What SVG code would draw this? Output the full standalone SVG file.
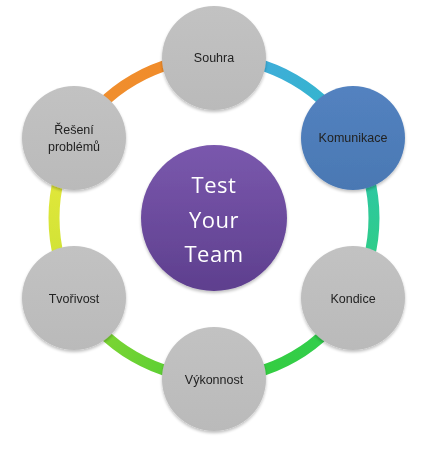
<svg xmlns="http://www.w3.org/2000/svg" width="423" height="450" viewBox="0 0 423 450">
<defs>
<style>
.ring{fill:none;stroke-width:11;stroke-linecap:butt}
.node{fill:url(#gray)}
.lbl{font-family:"Liberation Sans",Arial,sans-serif;font-size:12.5px;fill:#222;text-anchor:middle}
.big{font-family:"Open Sans","DejaVu Sans",sans-serif;font-size:22px;fill:#fff;text-anchor:middle;letter-spacing:0.5px}
</style>
<filter id="sh" x="-20%" y="-20%" width="140%" height="140%">
<feGaussianBlur in="SourceAlpha" stdDeviation="1.5"/>
<feOffset dx="0" dy="1.5" result="b"/>
<feComponentTransfer><feFuncA type="linear" slope="0.25"/></feComponentTransfer>
<feMerge><feMergeNode/><feMergeNode in="SourceGraphic"/></feMerge>
</filter>
<linearGradient id="gray" x1="0" y1="0" x2="0" y2="1"><stop offset="0" stop-color="#c2c2c2"/><stop offset="1" stop-color="#bababa"/></linearGradient>
<linearGradient id="blue" x1="0" y1="0" x2="0" y2="1"><stop offset="0" stop-color="#5382c0"/><stop offset="1" stop-color="#4a78b3"/></linearGradient>
<linearGradient id="purple" x1="0" y1="0" x2="0" y2="1"><stop offset="0" stop-color="#7a58ad"/><stop offset="1" stop-color="#5e3f8e"/></linearGradient>
<linearGradient id="g1" gradientUnits="userSpaceOnUse" x1="214" y1="58" x2="352" y2="138"><stop offset="0" stop-color="#45a8e0"/><stop offset="1" stop-color="#2fb9c8"/></linearGradient>
<linearGradient id="g2" gradientUnits="userSpaceOnUse" x1="352" y1="138" x2="352" y2="298"><stop offset="0" stop-color="#2cc4b0"/><stop offset="1" stop-color="#30d07a"/></linearGradient>
<linearGradient id="g3" gradientUnits="userSpaceOnUse" x1="352" y1="298" x2="214" y2="378"><stop offset="0" stop-color="#30cf55"/><stop offset="1" stop-color="#36cc38"/></linearGradient>
<linearGradient id="g4" gradientUnits="userSpaceOnUse" x1="214" y1="378" x2="75" y2="298"><stop offset="0" stop-color="#4acc35"/><stop offset="1" stop-color="#8fd832"/></linearGradient>
<linearGradient id="g5" gradientUnits="userSpaceOnUse" x1="75" y1="298" x2="75" y2="138"><stop offset="0" stop-color="#c8e034"/><stop offset="1" stop-color="#eaea3c"/></linearGradient>
<linearGradient id="g6" gradientUnits="userSpaceOnUse" x1="75" y1="138" x2="214" y2="58"><stop offset="0" stop-color="#f09030"/><stop offset="1" stop-color="#f08a28"/></linearGradient>
</defs>
<rect width="423" height="450" fill="#fff"/>
<g id="connectors">
<path class="ring" stroke="url(#g1)" d="M214 58 A160 160 0 0 1 352.56 138"/>
<path class="ring" stroke="url(#g2)" d="M352.56 138 A160 160 0 0 1 352.56 298"/>
<path class="ring" stroke="url(#g3)" d="M352.56 298 A160 160 0 0 1 214 378"/>
<path class="ring" stroke="url(#g4)" d="M214 378 A160 160 0 0 1 75.44 298"/>
<path class="ring" stroke="url(#g5)" d="M75.44 298 A160 160 0 0 1 75.44 138"/>
<path class="ring" stroke="url(#g6)" d="M75.44 138 A160 160 0 0 1 214 58"/>
</g>
<g id="center" filter="url(#sh)">
<circle cx="214" cy="218" r="73" fill="url(#purple)"/>
<text class="big" x="214" y="193">Test</text>
<text class="big" x="214" y="228">Your</text>
<text class="big" x="214" y="262">Team</text>
</g>
<g id="souhra" filter="url(#sh)">
<circle class="node" cx="214" cy="58" r="52"/>
<text class="lbl" x="214" y="62">Souhra</text>
</g>
<g id="komunikace" filter="url(#sh)">
<circle cx="353" cy="138" r="52" fill="url(#blue)"/>
<text class="lbl" x="353" y="142">Komunikace</text>
</g>
<g id="kondice" filter="url(#sh)">
<circle class="node" cx="353" cy="298" r="52"/>
<text class="lbl" x="353" y="303">Kondice</text>
</g>
<g id="vykonnost" filter="url(#sh)">
<circle class="node" cx="214" cy="379" r="52"/>
<text class="lbl" x="214" y="384">Výkonnost</text>
</g>
<g id="tvorivost" filter="url(#sh)">
<circle class="node" cx="74" cy="298" r="52"/>
<text class="lbl" x="74" y="303">Tvořivost</text>
</g>
<g id="reseni" filter="url(#sh)">
<circle class="node" cx="74" cy="138" r="52"/>
<text class="lbl" x="74" y="134">Řešení</text>
<text class="lbl" x="74" y="151">problémů</text>
</g>
</svg>
